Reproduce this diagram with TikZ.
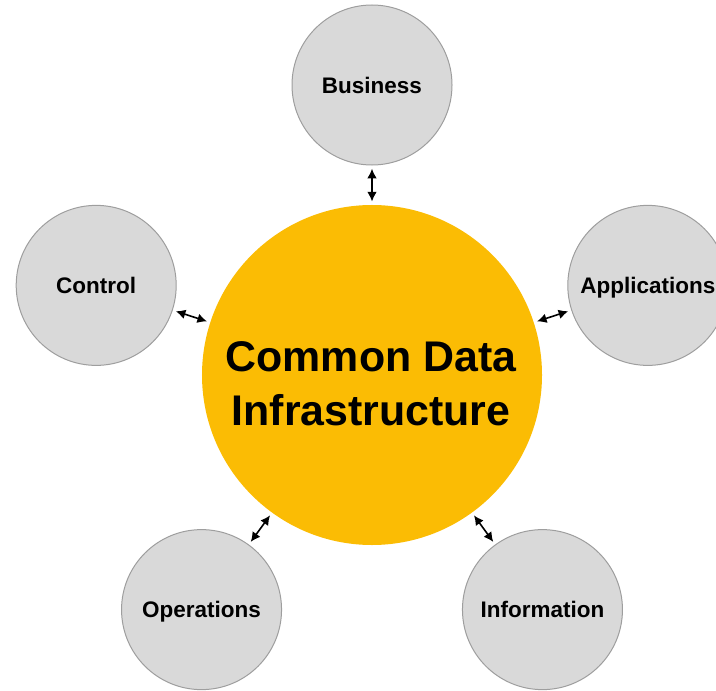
\documentclass[tikz,border=0pt]{standalone}
\usepackage{fontspec}
\setmainfont{Liberation Sans}
\usepackage{tikz}
\usetikzlibrary{arrows.meta}
\definecolor{hubyellow}{HTML}{FBBC04}
\definecolor{spokegrey}{HTML}{D9D9D9}
\definecolor{spokeline}{HTML}{9E9E9E}
\tikzset{hub/.style={circle, fill=hubyellow, minimum size=85mm, inner sep=0pt}}
\tikzset{hubtext/.style={align=center, font=\fontsize{30.5}{38.3}\selectfont\bfseries}}
\tikzset{spoke/.style={circle, draw=spokeline, fill=spokegrey, line width=0.25mm, minimum size=40mm, inner sep=0pt, text height=11.5pt, text depth=0pt, font=\fontsize{16}{19}\selectfont\bfseries}}
\tikzset{link/.style={{Latex[length=2.4mm, width=2.4mm]}-{Latex[length=2.4mm, width=2.4mm]}, line width=0.4mm, shorten >=0.8mm, shorten <=0.8mm}}

\begin{document}
\begin{tikzpicture}[x=0.25mm, y=0.25mm]
            \useasboundingbox (0, 0) rectangle (716, 690);
            \node[hub] (cdi) at (372, 315) {};
            \node[hubtext] (cdilabel) at (371, 306) {Common Data\\Infrastructure};
            \foreach \name/\angle/\lbl in {business/90/Business, applications/18/Applications, information/306/Information, operations/234/Operations, control/162/Control} {
                \node[spoke] (\name) at ([shift={(\angle:290)}]cdi.center) {\lbl};
                \draw[link] (cdi) -- (\name);
            }
        \end{tikzpicture}
\end{document}
